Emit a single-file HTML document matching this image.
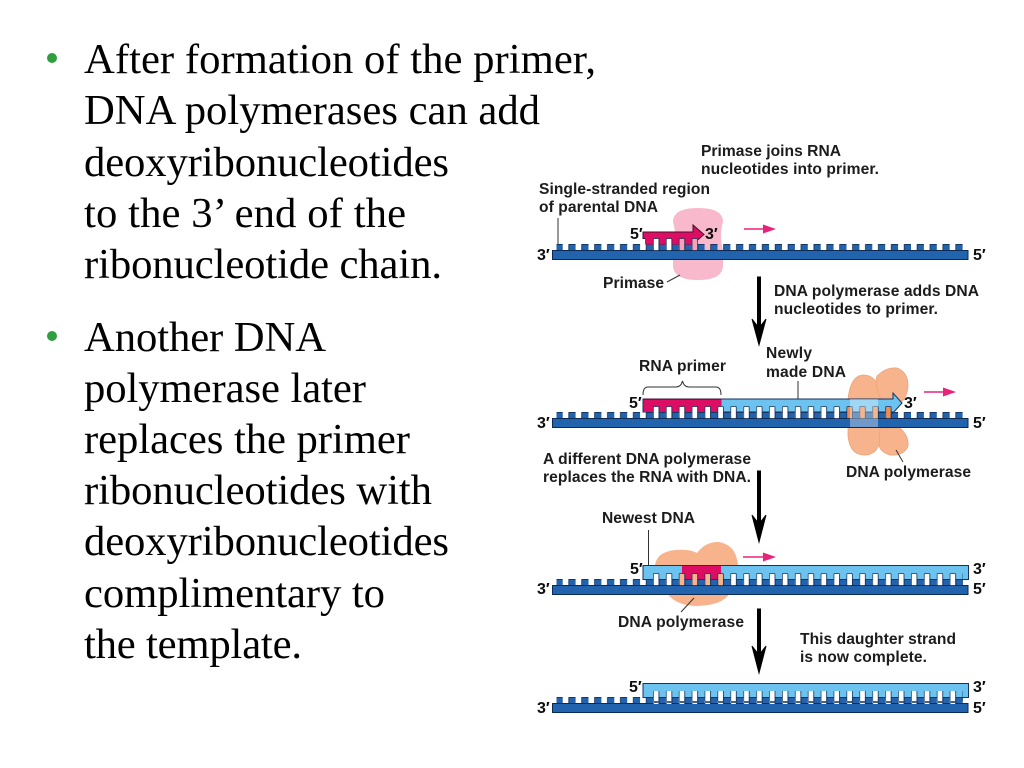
<!DOCTYPE html>
<html>
<head>
<meta charset="utf-8">
<style>
html,body{margin:0;padding:0;background:#fff;width:1024px;height:768px;overflow:hidden}
svg{display:block}
.m{font-family:"Liberation Serif",serif;font-size:42.67px;fill:#000}
.d{font-family:"Liberation Sans",sans-serif;font-weight:bold;font-size:15.6px;fill:#1a1a1a}
.n{font-family:"Liberation Sans",sans-serif;font-weight:bold;font-size:16px;fill:#111}
</style>
</head>
<body>
<svg width="1024" height="768" viewBox="0 0 1024 768" xmlns="http://www.w3.org/2000/svg">
<defs>
  <pattern id="teeth" patternUnits="userSpaceOnUse" x="653" y="0" width="12.9" height="8">
    <rect x="6.1" y="0" width="6.8" height="8" fill="#2163ae"/>
    <path d="M0,6.5H6.1V0.5H12.9" fill="none" stroke="#0f2b52" stroke-width="0.8"/>
  </pattern>
  <pattern id="gaps" patternUnits="userSpaceOnUse" x="653" y="0" width="12.9" height="13">
    <rect x="0.3" y="0.5" width="5.6" height="12" rx="1" fill="#fff" stroke="#14305a" stroke-width="0.8"/>
  </pattern>
  <pattern id="gapsP" patternUnits="userSpaceOnUse" x="653" y="0" width="12.9" height="13">
    <rect x="0.3" y="0.5" width="5.6" height="12" rx="1" fill="#f7b48c" stroke="#14305a" stroke-width="0.8"/>
  </pattern>
  <pattern id="gapsK" patternUnits="userSpaceOnUse" x="653" y="0" width="12.9" height="13">
    <rect x="0.3" y="0.5" width="5.6" height="12" rx="1" fill="#f6a3b8" stroke="#14305a" stroke-width="0.8"/>
  </pattern>
  <pattern id="gapsO" patternUnits="userSpaceOnUse" x="653" y="0" width="12.9" height="13">
    <rect x="0.3" y="0.5" width="5.6" height="12" rx="1" fill="#ee8d50" stroke="#14305a" stroke-width="0.8"/>
  </pattern>
  <g id="lower">
    <rect x="556.5" y="0" width="408.5" height="7" fill="url(#teeth)"/>
    <rect x="552.5" y="6.5" width="415.5" height="9" fill="#2163ae" stroke="#0f2b52" stroke-width="1"/>
  </g>
  <filter id="soft" x="0" y="0" width="100%" height="100%"><feGaussianBlur stdDeviation="0.35"/></filter>
</defs>

<rect width="1024" height="768" fill="#fff"/>

<!-- Slide text -->
<circle cx="52" cy="58" r="5" fill="#2f9e3f"/>
<text class="m" x="84" y="73" textLength="512" lengthAdjust="spacing">After formation of the primer,</text>
<text class="m" x="84" y="124" textLength="456" lengthAdjust="spacing">DNA polymerases can add</text>
<text class="m" x="84" y="176" textLength="365" lengthAdjust="spacing">deoxyribonucleotides</text>
<text class="m" x="84" y="227" textLength="322" lengthAdjust="spacing">to the 3’ end of the</text>
<text class="m" x="84" y="278" textLength="358" lengthAdjust="spacing">ribonucleotide chain.</text>
<circle cx="52" cy="336" r="5" fill="#2f9e3f"/>
<text class="m" x="84" y="351" textLength="242" lengthAdjust="spacing">Another DNA</text>
<text class="m" x="84" y="402" textLength="282" lengthAdjust="spacing">polymerase later</text>
<text class="m" x="84" y="453" textLength="326" lengthAdjust="spacing">replaces the primer</text>
<text class="m" x="84" y="504" textLength="348" lengthAdjust="spacing">ribonucleotides with</text>
<text class="m" x="84" y="555" textLength="365" lengthAdjust="spacing">deoxyribonucleotides</text>
<text class="m" x="84" y="607" textLength="301" lengthAdjust="spacing">complimentary to</text>
<text class="m" x="84" y="658" textLength="218" lengthAdjust="spacing">the template.</text>

<g filter="url(#soft)">
<!-- Strand 1 -->
<path d="M673,222Q673,208 698,208Q723,208 723,222Q719,235 723,250H673Q677,235 673,222Z" fill="#f7b9cb"/>
<path d="M673,259H723V265Q723,280 698,280Q673,280 673,265Z" fill="#f7b9cb"/>
<use href="#lower" transform="translate(0,244)"/>
<path d="M643,232H693V225L704,234.500L693,244V238.500H643Z" fill="#dc0a62" stroke="#4a1030" stroke-width="1"/>
<rect x="645" y="238" width="48" height="6.500" fill="#dc0a62"/>
<g transform="translate(0,238)">
  <rect x="653" y="0" width="26" height="13" fill="url(#gaps)"/>
  <rect x="679" y="0" width="19" height="13" fill="url(#gapsK)"/>
</g>
<path d="M558,218V244" stroke="#555" stroke-width="1.200"/>
<path d="M667,282L680,275" stroke="#333" stroke-width="1"/>

<!-- Strand 2 -->
<path d="M848,400Q850,376 863,375Q878,375 880,395V440Q878,455 864,455Q850,455 848,436Z" fill="#f7b48c" stroke="#eea277" stroke-width="0.800"/>
<path d="M877,376Q886,367 897,368Q908,372 908,386Q907,398 900,403L890,414L880,412Q884,402 880,397Q874,385 877,376Z" fill="#f7b48c" stroke="#eea277" stroke-width="0.800"/>
<path d="M880,428H900Q909,436 908,446Q904,456 890,455Q880,452 879,445Z" fill="#f7b48c" stroke="#eea277" stroke-width="0.800"/>
<use href="#lower" transform="translate(0,412)"/>
<path d="M643,399H893V393L902,403L893,413V412H643Z" fill="#6cc3ef" stroke="#12335f" stroke-width="1"/>
<rect x="643.500" y="399.500" width="78" height="12.500" fill="#dc0a62"/>
<rect x="643" y="398.600" width="78" height="1" fill="#4a1030"/>
<g transform="translate(0,406)">
  <rect x="653" y="0" width="194" height="13" fill="url(#gaps)"/>
  <rect x="847" y="0" width="46" height="13" fill="url(#gapsO)"/>
</g>
<rect x="850" y="399" width="28" height="28" fill="#fff" fill-opacity="0.35"/>
<path d="M798,381V399" stroke="#333" stroke-width="1"/>
<path d="M896,450L903,462" stroke="#333" stroke-width="1"/>
<path d="M643,395Q643,387 648,387H676Q681,387 682.500,381Q684,387 689,387H716Q721,387 721,395" fill="none" stroke="#333" stroke-width="1"/>

<!-- Strand 3 -->
<path d="M655,565Q657,552 675,550Q690,549 697,553Q705,542 718,542Q736,544 738,565Z" fill="#f7b48c"/>
<path d="M667,593H730Q722,606 695,606Q675,605 667,593Z" fill="#f7b48c"/>
<use href="#lower" transform="translate(0,579)"/>
<rect x="643" y="565.500" width="325.500" height="14" fill="#6cc3ef" stroke="#12335f" stroke-width="1"/>
<rect x="682" y="566" width="39" height="13" fill="#dc0a62"/>
<g transform="translate(0,573)">
  <rect x="653" y="0" width="26" height="13" fill="url(#gaps)"/>
  <rect x="679" y="0" width="52" height="13" fill="url(#gapsP)"/>
  <rect x="731" y="0" width="232" height="13" fill="url(#gaps)"/>
</g>
<path d="M648.500,530V565" stroke="#333" stroke-width="1"/>
<path d="M694,598L681,612" stroke="#333" stroke-width="1"/>

<!-- Strand 4 -->
<use href="#lower" transform="translate(0,697)"/>
<rect x="643" y="683.500" width="325.500" height="14" fill="#6cc3ef" stroke="#12335f" stroke-width="1"/>
<rect x="653" y="691" width="310" height="13" fill="url(#gaps)"/>

<!-- Big arrows -->
<path d="M757.500,277H760.500V326L766,319L759,345L752,319L757.500,326Z" fill="#000" stroke="#000" stroke-width="1"/>
<path d="M757.500,471H760.500V522L766,515L759,542L752,515L757.500,522Z" fill="#000" stroke="#000" stroke-width="1"/>
<path d="M757.500,609H760.500V653L766,646L759,673L752,646L757.500,653Z" fill="#000" stroke="#000" stroke-width="1"/>

<!-- Pink arrows -->
<path d="M744,229H765" stroke="#e9217a" stroke-width="1.500"/><path d="M763,224.500L776,229L763,233.500Z" fill="#e9217a"/>
<path d="M924,392H945" stroke="#e9217a" stroke-width="1.500"/><path d="M943,387.500L956,392L943,396.500Z" fill="#e9217a"/>
<path d="M743,557H765" stroke="#e9217a" stroke-width="1.500"/><path d="M763,552.500L776,557L763,561.500Z" fill="#e9217a"/>

<!-- Diagram labels -->
<text class="d" x="701" y="156" textLength="140" lengthAdjust="spacing">Primase joins RNA</text>
<text class="d" x="701" y="174" textLength="178" lengthAdjust="spacing">nucleotides into primer.</text>
<text class="d" x="539" y="194" textLength="171" lengthAdjust="spacing">Single-stranded region</text>
<text class="d" x="539" y="212" textLength="119" lengthAdjust="spacing">of parental DNA</text>
<text class="d" x="603" y="288" textLength="61" lengthAdjust="spacing">Primase</text>
<text class="d" x="774" y="296" textLength="205" lengthAdjust="spacing">DNA polymerase adds DNA</text>
<text class="d" x="774" y="314" textLength="164" lengthAdjust="spacing">nucleotides to primer.</text>
<text class="d" x="639" y="371" textLength="87" lengthAdjust="spacing">RNA primer</text>
<text class="d" x="766" y="358" textLength="46" lengthAdjust="spacing">Newly</text>
<text class="d" x="766" y="377" textLength="80" lengthAdjust="spacing">made DNA</text>
<text class="d" x="543" y="464" textLength="208" lengthAdjust="spacing">A different DNA polymerase</text>
<text class="d" x="543" y="482" textLength="208" lengthAdjust="spacing">replaces the RNA with DNA.</text>
<text class="d" x="846" y="477" textLength="125" lengthAdjust="spacing">DNA polymerase</text>
<text class="d" x="602" y="523" textLength="93" lengthAdjust="spacing">Newest DNA</text>
<text class="d" x="618" y="627" textLength="126" lengthAdjust="spacing">DNA polymerase</text>
<text class="d" x="800" y="644" textLength="156" lengthAdjust="spacing">This daughter strand</text>
<text class="d" x="800" y="662" textLength="127" lengthAdjust="spacing">is now complete.</text>

<!-- End labels -->
<text class="n" x="537" y="260">3′</text><text class="n" x="973" y="260">5′</text>
<text class="n" x="630" y="239">5′</text><text class="n" x="705" y="239">3′</text>
<text class="n" x="537" y="428">3′</text><text class="n" x="973" y="428">5′</text>
<text class="n" x="629" y="408">5′</text><text class="n" x="904" y="408">3′</text>
<text class="n" x="537" y="594">3′</text><text class="n" x="973" y="594">5′</text>
<text class="n" x="630" y="574">5′</text><text class="n" x="973" y="574">3′</text>
<text class="n" x="537" y="713">3′</text><text class="n" x="973" y="713">5′</text>
<text class="n" x="629" y="692">5′</text><text class="n" x="973" y="692">3′</text>
</g>
</svg>
</body>
</html>
